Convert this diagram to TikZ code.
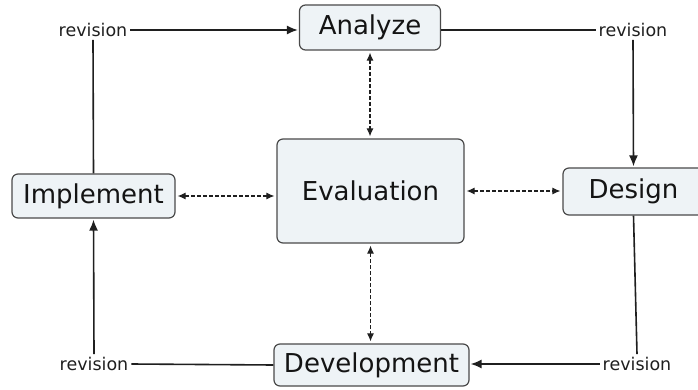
\documentclass[tikz,border=0pt]{standalone}
\usepackage{fontspec}
\setmainfont{DejaVu Sans}
\usetikzlibrary{arrows.meta}
\definecolor{boxfill}{HTML}{EEF3F6}
\definecolor{boxline}{HTML}{4A4A4A}
\tikzset{
  stage/.style={draw=boxline,fill=boxfill,line width=1.2pt,rounded corners=6pt,
    inner sep=0pt,text=black!92,font=\fontsize{26}{30}\selectfont},
  rev/.style={inner sep=3pt,text=black!88,font=\fontsize{17.5}{21}\selectfont},
  link/.style={line width=1.6pt,black!88},
  linkto/.style={link,-{Latex[length=11pt,width=9pt]},shorten >=1pt},
  both/.style={line width=1.1pt,dash pattern=on 3.5pt off 2.5pt,black!88,
    {Latex[length=8pt,width=7pt]}-{Latex[length=8pt,width=7pt]},shorten <=2pt,shorten >=2pt}
}
\begin{document}
\begin{tikzpicture}[x=1pt,y=-1pt]
\useasboundingbox (0,0) rectangle (698,390);
\clip (0,0) rectangle (698,390);
\node[stage,minimum width=141pt,minimum height=45pt] (ana) at (370,27.5) {Analyze};
\node[stage,minimum width=187pt,minimum height=104pt] (eva) at (370.5,191) {Evaluation};
\node[stage,minimum width=163pt,minimum height=44pt] (imp) at (93.5,196) {Implement};
\node[stage,minimum width=141pt,minimum height=47pt] (des) at (633.5,191.5) {Design};
\node[stage,minimum width=195pt,minimum height=42pt] (dev) at (371.5,365) {Development};
\node[rev] (r1) at (93,30) {revision};
\node[rev] (r2) at (633,30) {revision};
\node[rev] (r3) at (637,364) {revision};
\node[rev] (r4) at (94,364) {revision};
% revision cycle
\draw[linkto] (r1.east) -- (r1 -| ana.west);
\draw[link] (imp.north) -- (r1.south);
\draw[link] (ana.east |- r2) -- (r2.west);
\draw[linkto] (r2.south) -- (des.north);
\draw[link] (des.south) -- (r3.north);
\draw[linkto] (r3.west) -- (r3 -| dev.east);
\draw[link] (dev.west) -- (r4.east);
\draw[linkto] (r4.north) -- (imp.south);
% evaluation links
\draw[both] (imp.east) -- (imp -| eva.west);
\draw[both] (eva.east) -- (eva -| des.west);
\draw[both] (ana.south) -- (ana |- eva.north);
\draw[both] (eva.south) -- (eva |- dev.north);
\end{tikzpicture}
\end{document}
